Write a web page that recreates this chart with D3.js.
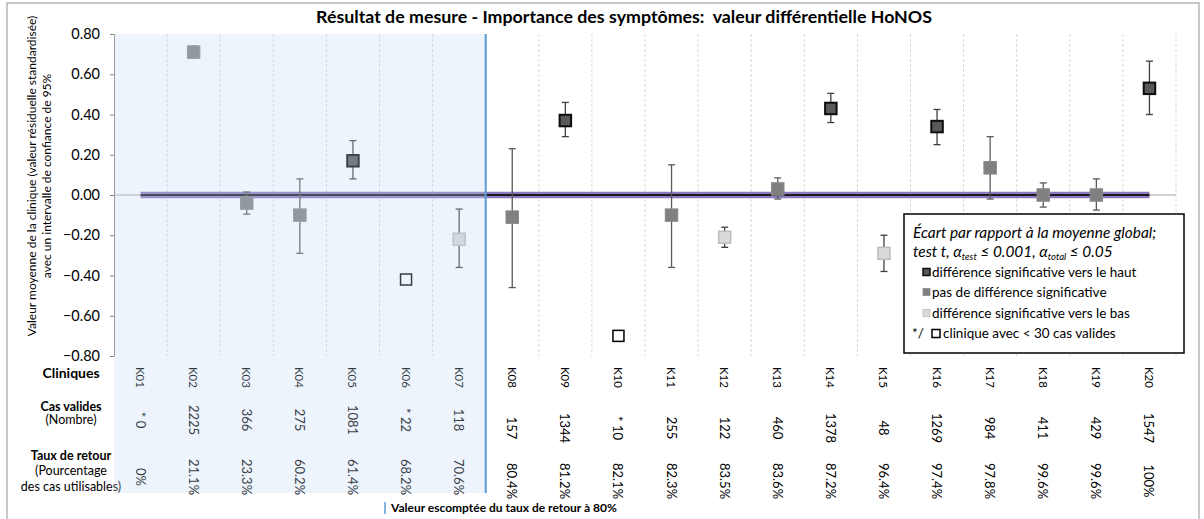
<!DOCTYPE html>
<html><head><meta charset="utf-8">
<script src="https://cdn.jsdelivr.net/npm/d3@7"></script>
<style>html,body{margin:0;padding:0;background:#fff;}svg{display:block;font-family:Lato,"Open Sans",sans-serif;}</style>
</head><body><svg id="c" width="1204" height="519"></svg>
<script>
const categories = ["K01","K02","K03","K04","K05","K06","K07","K08","K09","K10","K11","K12","K13","K14","K15","K16","K17","K18","K19","K20"];
const values = [null,0.71,-0.04,-0.10,0.17,-0.42,-0.22,-0.11,0.37,-0.70,-0.10,-0.21,0.03,0.43,-0.29,0.34,0.135,0.00,0.00,0.53];
const lower  = [null,0.68,-0.095,-0.29,0.08,null,-0.36,-0.46,0.29,null,-0.36,-0.26,-0.02,0.36,-0.38,0.25,-0.02,-0.06,-0.075,0.40];
const upper  = [null,0.74,0.015,0.08,0.27,null,-0.07,0.23,0.46,null,0.15,-0.16,0.085,0.505,-0.20,0.425,0.29,0.06,0.08,0.665];
const groups = ["none","gray","gray","gray","dark","white","light","gray","dark","white","gray","light","gray","dark","light","dark","gray","gray","gray","dark"];
const casValides = ["* 0","2225","366","275","1081","* 22","118","157","1344","* 10","255","122","460","1378","48","1269","984","411","429","1547"];
const tauxRetour = ["0%","21.1%","23.3%","60.2%","61.4%","68.2%","70.6%","80.4%","81.2%","82.1%","82.3%","83.5%","83.6%","87.2%","96.4%","97.4%","97.8%","99.6%","99.6%","100%"];
const yTicks = [-0.8,-0.6,-0.4,-0.2,0,0.2,0.4,0.6,0.8];
const expectedIndex = 7; // boundary before K08 (taux >= 80%)

const svg = d3.select("#c");
const x = d3.scaleBand().domain(categories).range([114,1176]).padding(0);
const y = d3.scaleLinear().domain([-0.8,0.8]).range([356,34]);
const cx = c => x(c) + x.bandwidth()/2;

const styles = {
  dark:  {fill:"#595959", stroke:"#0d0d0d", sw:2, size:11.5},
  gray:  {fill:"#808080", stroke:"#8a8a8a", sw:1, size:12.5},
  light: {fill:"#d9d9d9", stroke:"#bdbdbd", sw:1.5, size:12},
  white: {fill:"#ffffff", stroke:"#000000", sw:1.5, size:11}
};

// frame
svg.append("rect").attr("x",7).attr("y",3).attr("width",1192).attr("height",540)
  .attr("fill","none").attr("stroke","#a6a6a6").attr("stroke-width",1.2);

// title
svg.append("text").attr("x",624).attr("y",23).attr("text-anchor","middle")
  .attr("font-weight","bold").attr("font-size",17.8).attr("fill","#000")
  .attr("style","white-space:pre")
  .text("Résultat de mesure - Importance des symptômes:  valeur différentielle HoNOS");

// gridlines
svg.append("g").selectAll("line").data(categories).join("line")
  .attr("x1",(d,i)=>x(d)+x.bandwidth()).attr("x2",(d,i)=>x(d)+x.bandwidth())
  .attr("y1",34).attr("y2",356).attr("stroke","#d9d9d9").attr("stroke-width",1).attr("stroke-dasharray","3,2");

// y axis
const yAxis = d3.axisLeft(y).tickValues(yTicks).tickFormat(d3.format(".2f")).tickSize(4).tickPadding(10);
const ga = svg.append("g").attr("transform","translate(114,0)").call(yAxis);
ga.select(".domain").attr("stroke","#868686");
ga.selectAll(".tick line").attr("stroke","#868686");
ga.selectAll(".tick text").attr("font-size",14.5).attr("font-family","Lato,sans-serif").attr("fill","#000");

// x axis line at 0
svg.append("line").attr("x1",114).attr("x2",1176).attr("y1",y(0)).attr("y2",y(0))
  .attr("stroke","#a6a6a6").attr("stroke-width",1);

// y axis title
const yt = svg.append("text").attr("transform","translate(36,176) rotate(-90)")
  .attr("text-anchor","middle").attr("font-size",12).attr("fill","#000");
yt.append("tspan").attr("x",0).attr("dy",0).text("Valeur moyenne de la clinique (valeur résiduelle standardisée)");
yt.append("tspan").attr("x",0).attr("dy",14.5).text("avec un intervalle de confiance de 95%");

// zero reference line from first to last clinic
const x0 = cx(categories[0]), x1 = cx(categories[categories.length-1]);
svg.append("line").attr("x1",x0).attr("x2",x1).attr("y1",y(0)).attr("y2",y(0))
  .attr("stroke","#8c79bf").attr("stroke-width",6.5);
svg.append("line").attr("x1",x0).attr("x2",x1).attr("y1",y(0)).attr("y2",y(0))
  .attr("stroke","#1a1a1a").attr("stroke-width",2);

// error bars
const eb = categories.map((c,i)=>({c,lo:lower[i],hi:upper[i],g:groups[i]})).filter(d=>d.lo!==null);
const ebg = svg.append("g");
eb.forEach(d=>{
  const col = d.g==="gray" ? "#5a5a5a" : "#404040";
  ebg.append("line").attr("x1",cx(d.c)).attr("x2",cx(d.c)).attr("y1",y(d.lo)).attr("y2",y(d.hi)).attr("stroke",col).attr("stroke-width",1.3);
  [d.lo,d.hi].forEach(v=>ebg.append("line").attr("x1",cx(d.c)-3.5).attr("x2",cx(d.c)+3.5).attr("y1",y(v)).attr("y2",y(v)).attr("stroke",col).attr("stroke-width",1.3));
});

// markers
const pts = categories.map((c,i)=>({c,v:values[i],g:groups[i]})).filter(d=>d.v!==null);
svg.append("g").selectAll("rect").data(pts).join("rect")
  .attr("x",d=>cx(d.c)-styles[d.g].size/2).attr("y",d=>y(d.v)-styles[d.g].size/2)
  .attr("width",d=>styles[d.g].size).attr("height",d=>styles[d.g].size)
  .attr("fill",d=>styles[d.g].fill).attr("stroke",d=>styles[d.g].stroke).attr("stroke-width",d=>styles[d.g].sw);

// table rows
const tbl = svg.append("g");
categories.forEach((c,i)=>{
  const left = i < expectedIndex;
  tbl.append("text").attr("transform",`translate(${cx(c)},367) rotate(90)`)
    .attr("dominant-baseline","central").attr("font-size",11.5).attr("fill","#000").text(c);
  tbl.append("text").attr("transform",`translate(${cx(c)},${left?420:428}) rotate(90)`)
    .attr("text-anchor","middle").attr("dominant-baseline","central").attr("font-size",13).attr("fill","#000").text(casValides[i]);
  tbl.append("text").attr("transform",`translate(${cx(c)},${left?477:481}) rotate(90)`)
    .attr("text-anchor","middle").attr("dominant-baseline","central").attr("font-size",13).attr("fill","#000").text(tauxRetour[i]);
});

// row headers
const hdr = (t,yy,bold,size)=>svg.append("text").attr("x",71).attr("y",yy).attr("text-anchor","middle")
  .attr("font-weight",bold?"bold":"normal").attr("font-size",size).attr("fill","#000").text(t);
hdr("Cliniques",378,true,14);
hdr("Cas valides",411,true,12.5);
hdr("(Nombre)",424,false,12.5);
hdr("Taux de retour",460,true,12.5);
hdr("(Pourcentage",475,false,12.5);
hdr("des cas utilisables)",491,false,12.5);

// shaded region below 80% expected return rate (overlay)
const xb = x.range()[0] + expectedIndex*x.bandwidth();
svg.append("rect").attr("x",114).attr("y",34).attr("width",xb-114).attr("height",459)
  .attr("fill","#bed7f0").attr("opacity",0.28);
svg.append("line").attr("x1",xb).attr("x2",xb).attr("y1",34).attr("y2",493)
  .attr("stroke","#5b9bd5").attr("stroke-width",2);

// bottom note
svg.append("line").attr("x1",385).attr("x2",385).attr("y1",502).attr("y2",514).attr("stroke","#5b9bd5").attr("stroke-width",1.5);
svg.append("text").attr("x",391).attr("y",512).attr("font-weight","bold").attr("font-size",12).attr("fill","#000")
  .text("Valeur escomptée du taux de retour à 80%");

// legend
const lg = svg.append("g");
lg.append("rect").attr("x",904).attr("y",214).attr("width",280).attr("height",139)
  .attr("fill","#fff").attr("stroke","#000").attr("stroke-width",1.5);
lg.append("text").attr("x",913).attr("y",238).attr("font-style","italic").attr("font-size",15.4)
  .text("Écart par rapport à la moyenne global;");
const l2 = lg.append("text").attr("x",913).attr("y",257).attr("font-style","italic").attr("font-size",15.4).attr("style","white-space:pre");
l2.append("tspan").text("test t, α");
l2.append("tspan").attr("font-size",9.5).attr("dy",3).text("test");
l2.append("tspan").attr("dy",-3).text(" ≤ 0.001, α");
l2.append("tspan").attr("font-size",9.5).attr("dy",3).text("total");
l2.append("tspan").attr("dy",-3).text(" ≤ 0.05");
const legItems = [
  {g:"dark", t:"différence significative vers le haut", yc:272},
  {g:"gray", t:"pas de différence significative", yc:292},
  {g:"light", t:"différence significative vers le bas", yc:313}
];
legItems.forEach(d=>{
  const s = styles[d.g];
  lg.append("rect").attr("x",923).attr("y",d.yc-3.5).attr("width",7).attr("height",7)
    .attr("fill",s.fill).attr("stroke",s.stroke).attr("stroke-width",d.g==="dark"?1.5:0.8);
  lg.append("text").attr("x",932).attr("y",d.yc+4.5).attr("font-size",13.5).text(d.t);
});
lg.append("text").attr("x",912).attr("y",337.5).attr("font-size",13.5).text("*/");
lg.append("rect").attr("x",932).attr("y",329.5).attr("width",8).attr("height",8)
  .attr("fill","#fff").attr("stroke","#000").attr("stroke-width",1.5);
lg.append("text").attr("x",943).attr("y",337.5).attr("font-size",13.5).text("clinique avec < 30 cas valides");
</script></body></html>
